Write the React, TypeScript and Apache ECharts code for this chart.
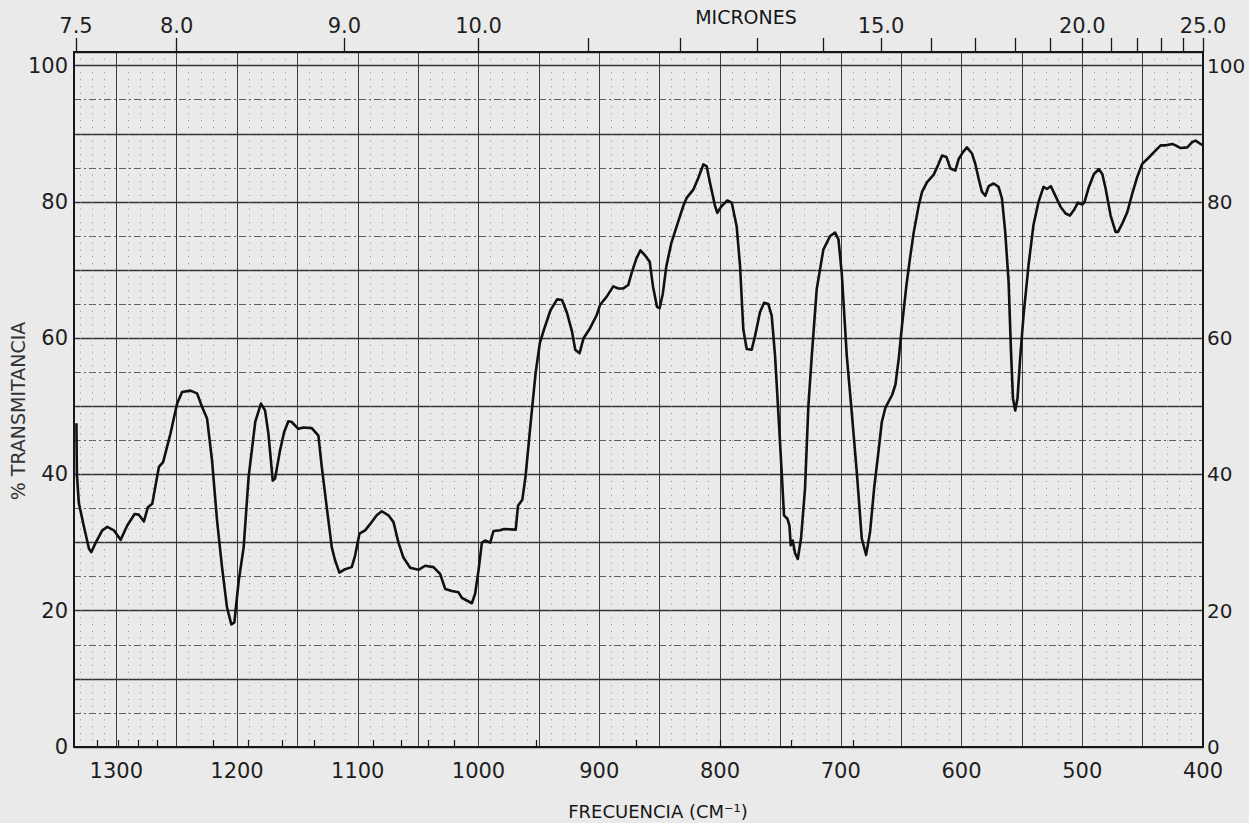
import React, { useEffect, useRef } from "react";
import * as echarts from "echarts";

// Wavenumber (cm-1) tick labels on the bottom axis
const WAVENUMBER_TICKS = [1300, 1200, 1100, 1000, 900, 800, 700, 600, 500, 400];
// % transmittance tick labels
const TRANSMITTANCE_TICKS = [0, 20, 40, 60, 80, 100];
// Micron scale (top axis)
const MICRON_LABELS = [7.5, 8, 9, 10, 15, 20, 25];
const MICRON_MAJOR_TICKS = [7.5, 8, 9, 10, 11, 12, 13, 14, 15, 16, 17, 18, 19, 20, 21, 22, 23, 24, 25];
const MICRON_MINOR_TICKS = [7.6, 7.7, 7.8, 7.9, 8.2, 8.4, 8.6, 8.8, 9.2, 9.4, 9.6, 9.8, 10.5, 11.5, 12.5, 13.5, 14.5];

// Spectrum trace: wavenumber (cm-1)
const wavenumber = [
  1333, 1332.6, 1331, 1326.7, 1322.6, 1320.7, 1317, 1311.6, 1307.4, 1302, 1296.4, 1290.9, 1284.8, 1281.3,
  1277.1, 1273.8, 1270.2, 1264.7, 1261.2, 1255.1, 1249.6, 1245.5, 1238.6, 1233.1, 1228.9, 1224.8, 1220.7,
  1216.5, 1212.4, 1208.3, 1204.7, 1202.2, 1198.6, 1194.5, 1190.4, 1184.9, 1180.2, 1176.8, 1174, 1170.4,
  1168.5, 1164.4, 1161, 1157.5, 1154.7, 1149.2, 1145, 1138.1, 1132.6, 1129.8, 1125.7, 1121.5, 1118.8,
  1115.2, 1110.5, 1105, 1102.2, 1098.6, 1093.9, 1089.8, 1084.3, 1080.1, 1074.6, 1070.4, 1066.3, 1062.2,
  1056.6, 1049.7, 1044.2, 1037.3, 1031.8, 1027.6, 1022.1, 1016.6, 1013.8, 1009.7, 1005.5, 1002.8, 1000,
  997.2, 994.5, 990.3, 987.6, 982.1, 978.8, 969.2, 967.3, 963.7, 961, 956.8, 952.7, 949.2, 945.9, 940.4,
  934.9, 930.8, 926.7, 922.6, 919.9, 916.3, 913, 907.5, 902.1, 899.3, 893.8, 888.4, 884.2, 880.1, 876,
  873.3, 869.2, 865.9, 862.3, 858.2, 855.5, 852.2, 850, 847.3, 844.5, 840.4, 835.9, 830.4, 827.6, 822.1,
  818, 813.8, 811, 808.3, 804.1, 802.2, 798.6, 793.9, 790.3, 786.2, 783.4, 780.7, 777.9, 773.8, 771,
  766.9, 763.5, 760, 757.2, 754.4, 751.7, 748.9, 747, 744.2, 742.5, 741.4, 739.8, 737.8, 735.6, 732.9,
  729.6, 726.8, 724, 719.9, 714.4, 708.8, 704.7, 701.9, 699.2, 695, 690.9, 686.7, 682.6, 679, 675.7,
  672.4, 668.8, 666, 663, 657.4, 654.7, 651.9, 649.2, 645.6, 642.3, 639.5, 635.4, 632.6, 628.5, 623,
  618.9, 616.1, 612.5, 609.2, 605.1, 602.3, 598.8, 595.5, 591.3, 588.6, 585.8, 583.1, 580.3, 577.5,
  573.4, 569.3, 566.5, 563.8, 561, 559.1, 557.4, 555.5, 553.6, 551.4, 548.6, 544.5, 540.4, 536.2, 532.1,
  529.3, 526, 522.5, 518, 513.8, 510.2, 506.9, 503.6, 500, 498.1, 494.5, 490.3, 486.2, 483.4, 480.7,
  476.5, 472.4, 470.4, 466.9, 462.7, 458.6, 454.4, 450.3, 446.1, 440.6, 435.1, 430.9, 425.4, 422.7,
  418.5, 413, 408.8, 406.1, 402, 400,
];
// Spectrum trace: % transmittance
const transmittance = [
  47.5, 40, 35.8, 32.3, 29.1, 28.6, 30.0, 31.8, 32.3, 31.8, 30.4, 32.5, 34.2, 34.1,
  33.1, 35.2, 35.7, 41.1, 41.8, 46.0, 50.4, 52.1, 52.3, 51.9, 49.9, 48.2, 42.1,
  33.2, 26.4, 20.5, 18.0, 18.3, 24.4, 29.3, 39.6, 47.7, 50.4, 49.4, 46.0, 39.1,
  39.4, 43.5, 46.2, 47.8, 47.7, 46.7, 46.9, 46.8, 45.7, 41.1, 35.2, 29.3, 27.4,
  25.6, 26.1, 26.4, 28.1, 31.3, 31.8, 32.7, 34.0, 34.6, 34.0, 33.0, 30.0, 27.8,
  26.3, 26.0, 26.6, 26.4, 25.4, 23.2, 22.9, 22.7, 21.9, 21.5, 21.1, 22.5, 25.9,
  30.0, 30.3, 30.0, 31.7, 31.8, 32.0, 31.9, 35.4, 36.3, 39.8, 47.6, 54.9, 59.3, 61.2, 64.1,
  65.7, 65.6, 63.7, 61.0, 58.3, 57.8, 60.0, 61.5, 63.4, 64.9, 66.1, 67.6, 67.3, 67.3, 67.8,
  69.5, 71.7, 72.9, 72.2, 71.2, 67.6, 64.6, 64.4, 66.6, 70.5, 73.9, 76.4, 79.4, 80.6, 81.8,
  83.5, 85.5, 85.2, 82.8, 79.4, 78.4, 79.4, 80.2, 79.9, 76.4, 70.6, 61.3, 58.4, 58.3, 60.3,
  63.8, 65.2, 65.0, 63.3, 57.4, 49.1, 40.3, 34.0, 33.5, 32.5, 29.6, 30.3, 28.4, 27.6, 30.6,
  37.9, 50.1, 57.4, 67.2, 73.0, 75.0, 75.5, 74.5, 69.6, 57.4, 49.1, 40.3, 30.6, 28.2, 31.6,
  37.9, 43.3, 47.7, 49.8, 51.7, 53.2, 57.1, 62.0, 67.8, 72.2, 75.6, 79.5, 81.5, 82.9, 84.0,
  85.6, 86.8, 86.6, 84.9, 84.6, 86.3, 87.3, 88.0, 87.1, 85.6, 83.4, 81.5, 80.9, 82.3,
  82.7, 82.2, 80.5, 75.6, 68.3, 58.5, 51.2, 49.4, 51.2, 57.1, 63.4, 70.7, 76.6, 80.0, 82.2,
  81.9, 82.3, 81.0, 79.3, 78.3, 78.0, 78.8, 79.9, 79.6, 80.0, 82.2, 84.1, 84.8, 84.1, 82.0,
  78.0, 75.6, 75.6, 76.8, 78.5, 81.2, 83.7, 85.6, 86.3, 87.3, 88.3, 88.3, 88.5, 88.3,
  87.9, 88.0, 88.8, 89.0, 88.5, 88.3,
];

const FONT = "DejaVu Sans";
const INK = "#161616";

export default function App() {
  const ref = useRef<HTMLDivElement>(null);

  useEffect(() => {
    document.body.style.margin = "0";
    const chart = echarts.init(ref.current!, null, { renderer: "svg" });
    const toWn = (m: number) => 10000 / m;
    const data = wavenumber.map((w, i) => [w, transmittance[i]]);

    chart.setOption({
      animation: false,
      backgroundColor: "#eaeaea",
      grid: { left: 74, right: 46, top: 52, bottom: 76, outerBoundsMode: "none" },
      xAxis: [
        {
          type: "value",
          position: "bottom",
          min: 400,
          max: 1335,
          inverse: true,
          interval: 50,
          axisLine: { show: true, onZero: false, lineStyle: { color: INK, width: 2 } },
          axisTick: { show: false },
          axisLabel: {
            customValues: WAVENUMBER_TICKS,
            formatter: (v: number) => String(Math.round(v)),
            fontSize: 21,
            lineHeight: 18,
            color: "#1e1e1e",
            fontFamily: FONT,
            margin: 15,
          },
          splitLine: { show: true, lineStyle: { color: "#3c3c3c", width: 1 } },
          minorTick: { show: false, splitNumber: 5 },
          minorSplitLine: { show: true, lineStyle: { color: "#8e8e8e", width: 1, type: [1, 5.81] } },
        },
        {
          type: "value",
          position: "top",
          min: 400,
          max: 1335,
          inverse: true,
          axisLine: { show: true, onZero: false, lineStyle: { color: INK, width: 2 } },
          axisTick: {
            show: true,
            length: 14,
            customValues: MICRON_MAJOR_TICKS.map(toWn),
            lineStyle: { color: INK, width: 1.3 },
          },
          axisLabel: {
            customValues: MICRON_LABELS.map(toWn),
            formatter: (v: number) => (10000 / v).toFixed(1),
            fontSize: 21,
            color: "#1e1e1e",
            fontFamily: FONT,
            margin: 16,
          },
          splitLine: { show: false },
        },
        {
          type: "value",
          position: "top",
          min: 400,
          max: 1335,
          inverse: true,
          axisLine: { show: false },
          axisTick: {
            show: true,
            length: 7,
            customValues: MICRON_MINOR_TICKS.map(toWn),
            lineStyle: { color: INK, width: 1.2 },
          },
          axisLabel: { show: false },
          splitLine: { show: false },
        },
      ],
      yAxis: [
        {
          type: "value",
          position: "left",
          min: 0,
          max: 102,
          interval: 10,
          axisLine: { show: true, onZero: false, lineStyle: { color: INK, width: 2 } },
          axisTick: { show: false },
          axisLabel: {
            customValues: TRANSMITTANCE_TICKS,
            fontSize: 21,
            lineHeight: 18,
            color: "#1e1e1e",
            fontFamily: FONT,
            margin: 6,
          },
          splitLine: { show: true, lineStyle: { color: "#333", width: 1.3 } },
        },
        {
          type: "value",
          position: "right",
          min: 0,
          max: 102,
          interval: 5,
          axisLine: { show: true, onZero: false, lineStyle: { color: INK, width: 2 } },
          axisTick: { show: false },
          axisLabel: {
            customValues: TRANSMITTANCE_TICKS,
            fontSize: 20,
            lineHeight: 16,
            color: "#1e1e1e",
            fontFamily: FONT,
            margin: 4,
          },
          splitLine: {
            show: true,
            lineStyle: { color: ["rgba(0,0,0,0)", "#5e5e5e"], width: 1.1, type: [7, 3, 2, 3] },
          },
        },
      ],
      graphic: [
        {
          type: "text",
          x: 746,
          y: 17,
          style: { text: "MICRONES", fontSize: 19, fontFamily: FONT, fill: INK, align: "center", verticalAlign: "middle" },
        },
        {
          type: "text",
          x: 658,
          y: 811,
          style: {
            text: "FRECUENCIA (CM⁻¹)",
            fontSize: 18,
            fontFamily: FONT,
            fill: INK,
            align: "center",
            verticalAlign: "middle",
          },
        },
        {
          type: "text",
          x: 18,
          y: 411,
          rotation: Math.PI / 2,
          style: {
            text: "% TRANSMITANCIA",
            fontSize: 19,
            fontFamily: FONT,
            fill: "#333",
            align: "center",
            verticalAlign: "middle",
          },
        },
      ],
      series: [
        {
          type: "line",
          xAxisIndex: 0,
          yAxisIndex: 0,
          data,
          symbol: "none",
          showSymbol: false,
          z: 10,
          lineStyle: { color: "#111", width: 2.6, join: "round" },
        },
      ],
    });

    return () => chart.dispose();
  }, []);

  return <div ref={ref} style={{ width: 1249, height: 823 }} />;
}
